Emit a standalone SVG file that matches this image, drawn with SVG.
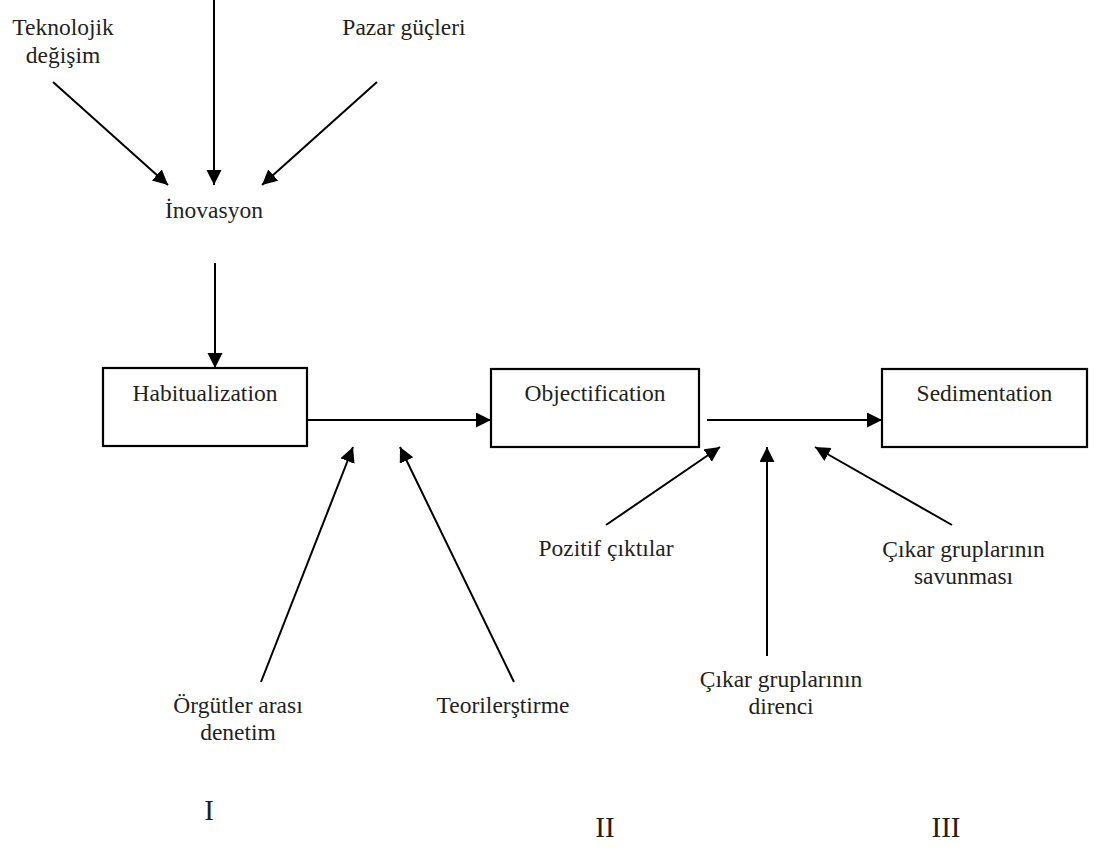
<svg xmlns="http://www.w3.org/2000/svg" width="1098" height="848" viewBox="0 0 1098 848">
<style>
text{font-family:"Liberation Serif","Times New Roman",serif;font-size:23.5px;fill:#231f20;text-anchor:middle}
.box{fill:#fff;stroke:#000;stroke-width:2.2}
.ln{stroke:#000;stroke-width:2;fill:none;marker-end:url(#ah)}
.num{font-size:29px}
</style>
<defs>
<marker id="ah" markerUnits="userSpaceOnUse" markerWidth="16" markerHeight="16" refX="15" refY="7.5" orient="auto">
<path d="M0,0 L15,7.5 L0,15 z" fill="#000"/>
</marker>
</defs>
<rect width="1098" height="848" fill="#fff"/>
<g id="connectors">
<line class="ln" x1="214" y1="-2" x2="214" y2="185"/>
<line class="ln" x1="53" y1="82" x2="168" y2="185"/>
<line class="ln" x1="377" y1="82" x2="262" y2="185"/>
<line class="ln" x1="215" y1="263" x2="215" y2="368"/>
<line class="ln" x1="307" y1="420" x2="491" y2="420"/>
<line class="ln" x1="707" y1="420" x2="882" y2="420"/>
<line class="ln" x1="261" y1="682" x2="353" y2="447"/>
<line class="ln" x1="514" y1="682" x2="400" y2="447"/>
<line class="ln" x1="606" y1="525" x2="720" y2="447"/>
<line class="ln" x1="767" y1="656" x2="767" y2="447"/>
<line class="ln" x1="952" y1="525" x2="815" y2="447"/>
</g>
<g id="teknolojik"><text x="63" y="35">Teknolojik</text><text x="63" y="63">değişim</text></g>
<g id="pazar"><text x="404" y="35">Pazar güçleri</text></g>
<g id="inovasyon"><text x="214" y="218">İnovasyon</text></g>
<g id="habitualization"><rect class="box" x="103" y="368" width="204" height="78"/><text x="205" y="401">Habitualization</text></g>
<g id="objectification"><rect class="box" x="491" y="369" width="208" height="78"/><text x="595" y="401">Objectification</text></g>
<g id="sedimentation"><rect class="box" x="882" y="369" width="205" height="78"/><text x="984.5" y="401">Sedimentation</text></g>
<g id="orgutler"><text x="238" y="713">Örgütler arası</text><text x="238" y="740">denetim</text></g>
<g id="teorilerstirme"><text x="503" y="713">Teorilerştirme</text></g>
<g id="pozitif"><text x="606" y="556">Pozitif çıktılar</text></g>
<g id="direnci"><text x="781" y="687">Çıkar gruplarının</text><text x="781" y="714">direnci</text></g>
<g id="savunmasi"><text x="963.5" y="557">Çıkar gruplarının</text><text x="963.5" y="584">savunması</text></g>
<g id="numerals"><text class="num" x="209" y="820">I</text><text class="num" x="605" y="837">II</text><text class="num" x="946" y="837">III</text></g>
</svg>
